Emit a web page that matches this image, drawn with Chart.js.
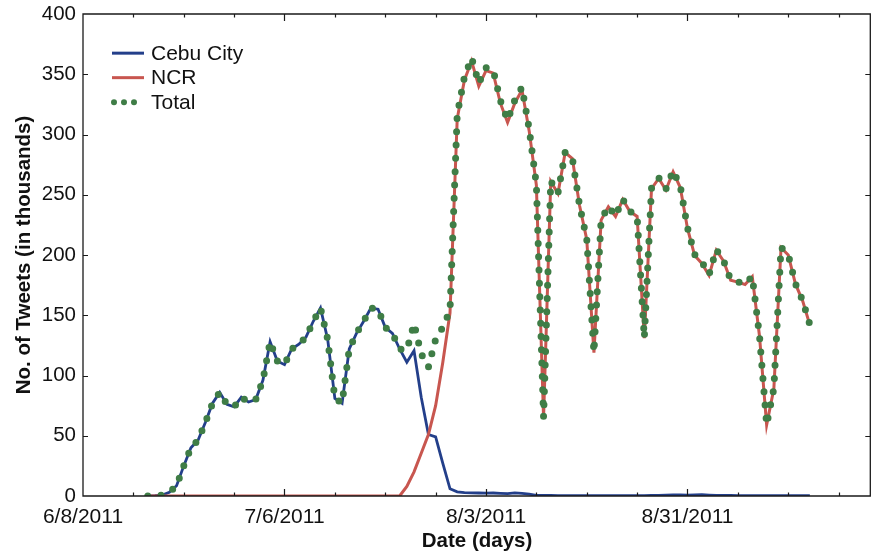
<!DOCTYPE html>
<html>
<head>
<meta charset="utf-8">
<script src="https://cdn.jsdelivr.net/npm/chart.js@4.4.1/dist/chart.umd.min.js"></script>
<style>
  html, body { margin: 0; padding: 0; background: #fff; }
  #wrap { width: 871px; height: 554px; position: relative; }
</style>
</head>
<body>
<div id="wrap"><canvas id="chart"></canvas></div>
<script>
// x values are days after 6/8/2011, one value per day starting at firstDay
const firstDay = 9;

const cebuCity = [
  0, 0.3, 0.8, 3, 8.5, 25, 40, 46.5, 61, 77,
  86, 76, 74, 82, 78, 80, 96, 128, 112, 109,
  122, 126, 132, 145, 156, 130, 81, 77, 122, 135,
  145, 156, 155, 140, 135, 122, 111, 120.6, 82, 51,
  49, 27, 6, 3.5, 2.8, 2.6, 2.5, 2.4, 2.5, 2.2,
  2.0, 2.6, 2.2, 1.6, 0.5, 0.4, 0.4, 0.3, 0.3, 0.3,
  0.3, 0.3, 0.2, 0.3, 0.3, 0.3, 0.3, 0.3, 0.3, 0.2,
  0.4, 0.5, 0.8, 1.0, 0.9, 0.7, 0.9, 1.1, 0.8, 0.6,
  0.5, 0.4, 0.3, 0.3, 0.3, 0.2, 0.2, 0.2, 0.3, 0.3,
  0.2, 0.2, 0.2
];

const ncr = [
  0, 0, 0, 0, 0, 0, 0, 0, 0, 0,
  0, 0, 0, 0, 0, 0, 0, 0, 0, 0,
  0, 0, 0, 0, 0, 0, 0, 0, 0, 0,
  0, 0, 0, 0, 0, 0, 8, 20, 35.5, 51,
  75, 111, 152, 313, 345, 361, 340, 353, 351, 326,
  310, 326, 337, 303, 258, 65, 261, 251, 285, 280,
  241, 213, 119, 229, 240, 232, 246, 236, 232, 131,
  255, 263.6, 254, 269, 256, 222, 199.5, 193, 183, 204,
  195, 179, 177.5, 175.5, 182, 133, 59, 89, 206, 200,
  176, 162, 142
];

const total = [
  0, 0.3, 0.8, 3, 8.5, 25, 40, 46.5, 61, 77,
  86, 76, 74, 82, 78, 80, 96, 128, 112, 109,
  122, 126, 132, 145, 156, 130, 81, 77, 122, 135,
  145, 156, 155, 140, 135, 122, 121, 143, 118, 107,
  130, 140, 154, 316.5, 347.8, 363.6, 342.5, 355.4, 353.5, 328.2,
  312, 328.6, 339.2, 304.6, 258.5, 65.4, 261.4, 251.3, 285.3, 280.3,
  241.3, 213.3, 119.2, 229.3, 240.3, 232.3, 246.3, 236.3, 232.3, 131.2,
  255.4, 264.1, 254.8, 270, 256.9, 222.7, 200.4, 194.1, 183.8, 204.6,
  195.5, 179.4, 177.8, 175.8, 182.3, 133.2, 59.2, 89.2, 206.3, 200.3,
  176.2, 162.2, 142.2
];

const xTickDays = [0, 28, 56, 84];
const xTickLabels = ['6/8/2011', '7/6/2011', '8/3/2011', '8/31/2011'];
const seriesNames = ['Cebu City', 'NCR', 'Total'];
const colors = ['#233f8a', '#c8564f', '#3f7d46'];

const FONT = '"Liberation Sans", Arial, Helvetica, sans-serif';

function toPoints(values) {
  return values.map((v, i) => ({ x: firstDay + i, y: v }));
}

// box, inward tick marks and the legend, all placed through the chart scales
const framePlugin = {
  id: 'frame',
  afterDatasetsDraw(chart) {
    const { ctx, chartArea: a, scales: { x, y } } = chart;
    const right = a.right - 0.7;
    ctx.save();
    ctx.strokeStyle = '#1a1a1a';
    ctx.lineWidth = 1.3;
    ctx.beginPath();
    ctx.moveTo(a.left, a.top);
    ctx.lineTo(right, a.top);
    ctx.lineTo(right, a.bottom);
    ctx.lineTo(a.left, a.bottom);
    ctx.closePath();
    ctx.stroke();

    ctx.lineWidth = 1.2;
    ctx.beginPath();
    for (let d = 7; d <= x.max; d += 7) {
      const px = Math.round(x.getPixelForValue(d)) + 0.5;
      const len = xTickDays.includes(d) ? 7 : 3.5;
      ctx.moveTo(px, a.bottom);
      ctx.lineTo(px, a.bottom - len);
      ctx.moveTo(px, a.top);
      ctx.lineTo(px, a.top + len);
    }
    for (let v = 50; v < y.max; v += 50) {
      const py = Math.round(y.getPixelForValue(v)) + 0.5;
      ctx.moveTo(a.left, py);
      ctx.lineTo(a.left + 5, py);
      ctx.moveTo(right, py);
      ctx.lineTo(right - 5, py);
    }
    ctx.stroke();

    // legend
    const lx0 = a.left + 29, lx1 = a.left + 61, ly0 = y.getPixelForValue(367.5), step = 24.5;
    ctx.font = '21px ' + FONT;
    ctx.textBaseline = 'middle';
    ctx.fillStyle = '#111';
    chart.data.datasets.forEach((ds, i) => {
      const ly = ly0 + i * step;
      ctx.save();
      ctx.strokeStyle = ds.borderColor;
      if (ds.borderDash && ds.borderDash.length) {
        ctx.lineWidth = 6;
        ctx.lineCap = 'round';
        ctx.setLineDash([0, 10]);
        ctx.beginPath();
        ctx.moveTo(lx0 + 2, ly);
        ctx.lineTo(lx1, ly);
        ctx.stroke();
      } else {
        ctx.lineWidth = 3;
        ctx.beginPath();
        ctx.moveTo(lx0, ly);
        ctx.lineTo(lx1, ly);
        ctx.stroke();
      }
      ctx.restore();
      ctx.fillText(ds.label, lx1 + 7, ly + 1);
    });
    ctx.restore();
  }
};

new Chart(document.getElementById('chart'), {
  type: 'line',
  data: {
    datasets: [
      {
        label: seriesNames[0],
        data: toPoints(cebuCity),
        borderColor: colors[0],
        borderWidth: 2.8,
        pointRadius: 0,
        order: 2
      },
      {
        label: seriesNames[1],
        data: toPoints(ncr),
        borderColor: colors[1],
        borderWidth: 3,
        pointRadius: 0,
        order: 1
      },
      {
        label: seriesNames[2],
        data: toPoints(total),
        borderColor: colors[2],
        borderWidth: 7,
        borderDash: [0, 13.3],
        borderCapStyle: 'round',
        pointRadius: 0,
        order: 0
      }
    ]
  },
  options: {
    responsive: true,
    maintainAspectRatio: false,
    animation: false,
    devicePixelRatio: 1,
    layout: { padding: { top: 14, right: 0, bottom: 0, left: 0 } },
    plugins: {
      legend: { display: false },
      tooltip: { enabled: false }
    },
    scales: {
      x: {
        type: 'linear',
        min: 0,
        max: 109.5,
        grid: { display: false, drawTicks: false },
        border: { display: false },
        afterBuildTicks: (scale) => {
          scale.ticks = xTickDays.map(v => ({ value: v }));
        },
        afterFit: (scale) => {
          scale.height = 58;
          scale.paddingLeft = 0;
          scale.paddingRight = 0;
        },
        ticks: {
          autoSkip: false,
          maxRotation: 0,
          padding: 9,
          color: '#111',
          font: { family: FONT, size: 21 },
          callback: (v) => xTickLabels[xTickDays.indexOf(v)] || ''
        },
        title: {
          display: true,
          text: 'Date (days)',
          color: '#111',
          padding: { top: 0, bottom: 0 },
          font: { family: FONT, size: 20.5, weight: 'bold' }
        }
      },
      y: {
        min: 0,
        max: 400,
        grid: { display: false, drawTicks: false },
        border: { display: false },
        afterFit: (scale) => {
          scale.width = 83;
          scale.paddingTop = 0;
          scale.paddingBottom = 0;
        },
        ticks: {
          stepSize: 50,
          padding: 7,
          color: '#111',
          font: { family: FONT, size: 20.5 }
        },
        title: {
          display: true,
          text: 'No. of Tweets (in thousands)',
          color: '#111',
          padding: { top: 12, bottom: 0 },
          font: { family: FONT, size: 20.5, weight: 'bold' }
        }
      }
    }
  },
  plugins: [framePlugin]
});
</script>
</body>
</html>
